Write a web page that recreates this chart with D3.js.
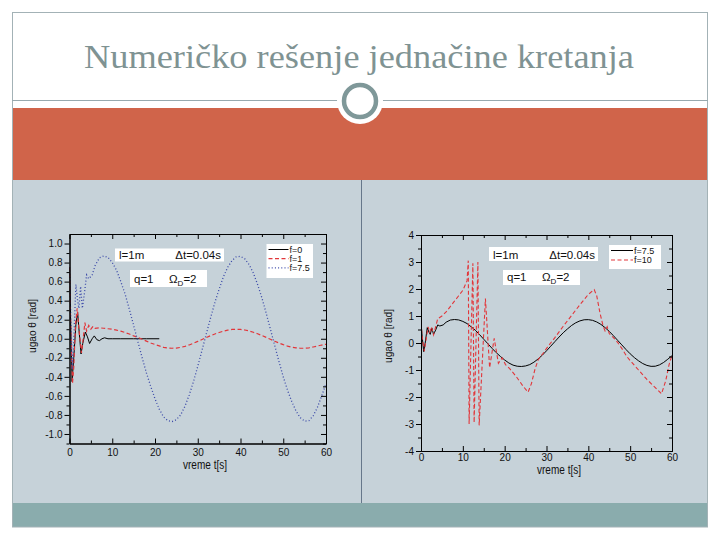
<!DOCTYPE html>
<html><head><meta charset="utf-8">
<script src="https://cdn.jsdelivr.net/npm/d3@7"></script>
<style>body{margin:0;background:#fff}svg{display:block}</style>
</head><body>
<svg id="c" width="720" height="540"></svg>
<script>
// ---------- DATA ----------
const titleText = "Numeričko rešenje jednačine kretanja";
const xTicks = [0, 10, 20, 30, 40, 50, 60];
const xMinorTicks = [5, 15, 25, 35, 45, 55];
const leftYTicks = [-1.0, -0.8, -0.6, -0.4, -0.2, 0.0, 0.2, 0.4, 0.6, 0.8, 1.0];
const leftYMinor = [-1.1, -0.9, -0.7, -0.5, -0.3, -0.1, 0.1, 0.3, 0.5, 0.7, 0.9];
const rightYTicks = [-4, -3, -2, -1, 0, 1, 2, 3, 4];
const rightYMinor = [-3.5, -2.5, -1.5, -0.5, 0.5, 1.5, 2.5, 3.5];
const leftLegend = ["f=0", "f=1", "f=7.5"];
const rightLegend = ["f=7.5", "f=10"];

// f = 0 (damped, left chart)
const f0 = [[0,0.75],[0.3,0.1],[0.6,-0.45],[1.0,-0.2],[1.5,0.15],[1.9,0.28],[2.3,0.05],[2.7,-0.16],
  [3.1,-0.05],[3.7,0.07],[4.2,0.02],[4.7,-0.05],[5.3,0.0],[5.8,0.03],[6.4,-0.01],[7.0,-0.02],
  [7.6,0.0],[8.2,0.01],[9,0],[10,0],[12,0],[15,0],[18,0],[21,0]];
// f = 1 (left chart)
const f1 = [[0,0.75],[0.3,0.1],[0.7,-0.47],[1.0,-0.3],[1.4,0.15],[1.8,0.32],[2.2,0.1],[2.8,-0.15],
  [3.2,0.0],[3.6,0.17],[4.0,0.08],[4.5,0.14],[5,0.1],[5.5,0.13],[6,0.11],[7,0.115],[8,0.11],
  [9,0.105],[10,0.1],[11,0.09],[12,0.08],[13,0.065],[14,0.05],[15,0.03],[16,0.015],[17,-0.005],
  [18,-0.025],[19,-0.045],[20,-0.06],[21,-0.075],[22,-0.09],[23,-0.097],[24,-0.1],[25,-0.098],
  [26,-0.09],[27,-0.08],[28,-0.065],[29,-0.047],[30,-0.028],[31,-0.008],[32,0.012],[33,0.032],
  [34,0.05],[35,0.066],[36,0.08],[37,0.09],[38,0.098],[39,0.1],[40,0.098],[41,0.092],[42,0.082],
  [43,0.068],[44,0.052],[45,0.034],[46,0.014],[47,-0.006],[48,-0.026],[49,-0.045],[50,-0.062],
  [51,-0.077],[52,-0.088],[53,-0.096],[54,-0.1],[55,-0.1],[56,-0.095],[57,-0.087],[58,-0.076],
  [59,-0.066],[60,-0.058]];
// f = 7.5 (blue dotted on left, black solid on right)
const f75 = [[0,0.75],[0.3,0.2],[0.65,-0.32],[1.0,0.0],[1.5,0.57],[1.9,0.4],[2.2,0.32],[2.6,0.55],
  [3.0,0.32],[3.5,0.48],[4.0,0.67],[4.5,0.63],[5.3,0.67],[6,0.77],[7,0.85],[8,0.87],[9,0.855],
  [10,0.8],[11,0.72],[12,0.6],[13,0.47],[14,0.31],[15,0.14],[16,-0.03],[17,-0.2],[18,-0.36],
  [19,-0.5],[20,-0.63],[21,-0.74],[22,-0.82],[23,-0.86],[24,-0.87],[25,-0.85],[26,-0.8],
  [27,-0.71],[28,-0.59],[29,-0.45],[30,-0.29],[31,-0.12],[32,0.05],[33,0.22],[34,0.38],
  [35,0.52],[36,0.65],[37,0.75],[38,0.82],[39,0.86],[40,0.865],[41,0.84],[42,0.78],[43,0.69],
  [44,0.57],[45,0.43],[46,0.27],[47,0.1],[48,-0.07],[49,-0.24],[50,-0.4],[51,-0.54],[52,-0.66],
  [53,-0.76],[54,-0.83],[55,-0.865],[56,-0.86],[57,-0.81],[58,-0.72],[59,-0.6],[60,-0.47]];
// f = 10 (right chart, red dashed)
const f10 = [[0,0.75],[0.3,0.2],[0.8,-0.3],[1.2,0.1],[1.7,0.6],[2.1,0.4],[2.5,0.6],[3.0,0.3],
  [3.5,0.6],[4.0,0.9],[5,1.0],[6,1.15],[7,1.35],[8,1.55],[9,1.75],[10,1.95],[11,2.3],[11.3,3.05],
  [11.5,-3.0],[12.4,2.95],[12.7,-2.95],[13.6,3.0],[13.9,-3.05],[15.4,1.65],[16.4,-0.92],
  [17.5,0.17],[18.5,-0.75],[19.4,-0.55],[20.2,-0.8],[21.2,-0.95],[22.8,-1.25],[24.4,-1.6],
  [25.6,-1.82],[26.4,-1.5],[27.2,-1.0],[28,-0.62],[29.2,-0.38],[30.4,-0.12],[32,0.2],[34,0.62],
  [36,1.02],[38,1.42],[40,1.8],[41.4,1.98],[42,1.75],[42.8,1.1],[43.5,0.65],[44,0.45],[44.5,0.6],
  [45,0.35],[46,0.2],[47,0.02],[48,-0.2],[49.2,-0.5],[50,-0.65],[52,-1.0],[54,-1.35],[56,-1.65],
  [57.5,-1.88],[58.5,-1.4],[59.3,-0.8],[60,-0.45]];

// ---------- SLIDE ----------
const svg = d3.select("#c");
svg.append("rect").attr("width",720).attr("height",540).attr("fill","#fff");
svg.append("rect").attr("x",12).attr("y",108).attr("width",696).attr("height",72).attr("fill","#d0644a");
svg.append("rect").attr("x",12).attr("y",180).attr("width",696).attr("height",323).attr("fill","#c6d2d9");
svg.append("rect").attr("x",12).attr("y",503).attr("width",696).attr("height",24).attr("fill","#8aacad");
svg.append("rect").attr("x",12.5).attr("y",12.5).attr("width",695).attr("height",514.5)
  .attr("fill","none").attr("stroke","#a3b2b6").attr("stroke-width",1);
svg.append("line").attr("x1",12).attr("x2",708).attr("y1",100.5).attr("y2",100.5)
  .attr("stroke","#98a9ae").attr("stroke-width",1);
svg.append("line").attr("x1",361.5).attr("x2",361.5).attr("y1",180).attr("y2",503)
  .attr("stroke","#66778a").attr("stroke-width",1);
svg.append("circle").attr("cx",360).attr("cy",101).attr("r",23).attr("fill","#fff");
svg.append("circle").attr("cx",360).attr("cy",101).attr("r",16).attr("fill","#fff")
  .attr("stroke","#7f9899").attr("stroke-width",4.5);
svg.append("text").attr("x",359).attr("y",68).attr("text-anchor","middle")
  .attr("font-family","'Liberation Serif','DejaVu Serif',serif").attr("font-size",34)
  .attr("fill","#7f9393").attr("textLength",550).attr("lengthAdjust","spacingAndGlyphs")
  .text(titleText);

// ---------- CHARTS ----------
const FONT = "'Liberation Sans',Arial,sans-serif";

function styleAxis(g){
  g.attr("font-family",FONT).attr("font-size",10);
  g.selectAll("path.domain").attr("stroke","#000").attr("stroke-width",1);
  g.selectAll(".tick line").attr("stroke","#000");
  g.selectAll(".tick text").attr("fill","#111");
}

function drawChart(cfg){
  const x = d3.scaleLinear().domain([0,60]).range([cfg.x0,cfg.x1]);
  const y = d3.scaleLinear().domain(cfg.yDomain).range([cfg.y1,cfg.y0]);
  const g = svg.append("g");
  const cid = "clip"+cfg.id;
  g.append("clipPath").attr("id",cid).append("rect")
    .attr("x",cfg.x0).attr("y",cfg.y0).attr("width",cfg.x1-cfg.x0).attr("height",cfg.y1-cfg.y0);

  // series
  const line = d3.line().x(d=>x(d[0])).y(d=>y(d[1]));
  const sg = g.append("g").attr("clip-path",`url(#${cid})`);
  cfg.series.forEach(s=>{
    sg.append("path").datum(s.data).attr("d",line).attr("fill","none")
      .attr("stroke",s.color).attr("stroke-width",s.width)
      .attr("stroke-dasharray",s.dash||null);
  });

  // axes
  g.append("g").attr("transform",`translate(0,${cfg.y1})`)
    .call(d3.axisBottom(x).tickValues(xTicks).tickSize(-5).tickSizeOuter(0).tickPadding(cfg.xPad).tickFormat(d3.format("d")))
    .call(styleAxis);
  g.append("g").attr("transform",`translate(0,${cfg.y1})`)
    .call(d3.axisBottom(x).tickValues(xMinorTicks).tickSize(-3).tickSizeOuter(0).tickFormat(""))
    .call(styleAxis);
  g.append("g").attr("transform",`translate(0,${cfg.y0})`)
    .call(d3.axisTop(x).tickValues(xTicks).tickSize(-5).tickSizeOuter(0).tickFormat(""))
    .call(styleAxis);
  g.append("g").attr("transform",`translate(0,${cfg.y0})`)
    .call(d3.axisTop(x).tickValues(xMinorTicks).tickSize(-3).tickSizeOuter(0).tickFormat(""))
    .call(styleAxis);
  g.append("g").attr("transform",`translate(${cfg.x0},0)`)
    .call(d3.axisLeft(y).tickValues(cfg.yTicks).tickSize(5).tickSizeOuter(0).tickPadding(2).tickFormat(cfg.yFmt))
    .call(styleAxis);
  g.append("g").attr("transform",`translate(${cfg.x0},0)`)
    .call(d3.axisLeft(y).tickValues(cfg.yMinor).tickSize(3).tickSizeOuter(0).tickFormat(""))
    .call(styleAxis);
  g.append("g").attr("transform",`translate(${cfg.x1},0)`)
    .call(d3.axisRight(y).tickValues(cfg.yTicks).tickSize(-5).tickSizeOuter(0).tickFormat(""))
    .call(styleAxis);
  g.append("g").attr("transform",`translate(${cfg.x1},0)`)
    .call(d3.axisRight(y).tickValues(cfg.yMinor).tickSize(-3).tickSizeOuter(0).tickFormat(""))
    .call(styleAxis);

  // axis titles
  g.append("text").attr("x",cfg.xLabel[0]).attr("y",cfg.xLabel[1]).attr("text-anchor","middle")
    .attr("font-family",FONT).attr("font-size",12).attr("fill","#111")
    .attr("textLength",44).attr("lengthAdjust","spacingAndGlyphs").text("vreme t[s]");
  g.append("text").attr("transform",`translate(${cfg.yLabel[0]},${cfg.yLabel[1]}) rotate(-90)`)
    .attr("text-anchor","middle").attr("font-family",FONT).attr("font-size",11).attr("fill","#111")
    .attr("textLength",54).attr("lengthAdjust","spacingAndGlyphs").text("ugao θ [rad]");

  // parameter boxes
  const b1 = cfg.box1, b2 = cfg.box2;
  g.append("rect").attr("x",b1[0]).attr("y",b1[1]).attr("width",b1[2]).attr("height",b1[3]).attr("fill","#fff");
  g.append("rect").attr("x",b2[0]).attr("y",b2[1]).attr("width",b2[2]).attr("height",b2[3]).attr("fill","#fff");
  const tstyle = t=>t.attr("font-family",FONT).attr("font-size",11.5).attr("fill","#111");
  g.append("text").attr("x",b1[0]+4).attr("y",b1[1]+b1[3]-2.5).call(tstyle).text("l=1m");
  g.append("text").attr("x",b1[0]+b1[2]-3).attr("y",b1[1]+b1[3]-2.5).attr("text-anchor","end").call(tstyle).text("Δt=0.04s");
  g.append("text").attr("x",b2[0]+4).attr("y",b2[1]+b2[3]-4).call(tstyle).text("q=1");
  const om = g.append("text").attr("x",b2[0]+b2[2]-38).attr("y",b2[1]+b2[3]-4).call(tstyle);
  om.append("tspan").text("Ω");
  om.append("tspan").attr("dy",3).attr("font-size",8).text("D");
  om.append("tspan").attr("dy",-3).text("=2");

  // legend
  const L = cfg.legend;
  g.append("rect").attr("x",L.x).attr("y",L.y).attr("width",L.w).attr("height",L.h).attr("fill","#fff");
  cfg.series.forEach((s,i)=>{
    const ly = L.y + L.first + i*L.step;
    g.append("line").attr("x1",L.x+2).attr("x2",L.x+2+L.len).attr("y1",ly).attr("y2",ly)
      .attr("stroke",s.color).attr("stroke-width",s.width).attr("stroke-dasharray",s.dash||null);
    g.append("text").attr("x",L.x+3+L.len).attr("y",ly+3).attr("font-family",FONT)
      .attr("font-size",9).attr("fill","#111").text(cfg.labels[i]);
  });
}

const fmtLeft = d => d.toFixed(1);
const fmtRight = d => String(d);

drawChart({
  id:"L", x0:69.5, x1:326, y0:234, y1:443.5, yDomain:[-1.1,1.1],
  yTicks:leftYTicks, yMinor:leftYMinor, yFmt:fmtLeft, xPad:5,
  xLabel:[205,469], yLabel:[36,326],
  box1:[115,248.5,109,13], box2:[130,270,77,17],
  legend:{x:266.5,y:244,w:46.5,h:34,first:5.5,step:9.2,len:20},
  labels:leftLegend,
  series:[
    {data:f0, color:"#000", width:1},
    {data:f1, color:"#e2363a", width:1.2, dash:"4,2.5"},
    {data:f75, color:"#3a48a8", width:1.3, dash:"1,2.2"}
  ]
});

drawChart({
  id:"R", x0:421, x1:672, y0:235, y1:451, yDomain:[-4,4],
  yTicks:rightYTicks, yMinor:rightYMinor, yFmt:fmtRight, xPad:3,
  xLabel:[559,474], yLabel:[392,336],
  box1:[489,247,109,14], box2:[503,270,77,15],
  legend:{x:609,y:245,w:52,h:24,first:5.5,step:9.5,len:22},
  labels:rightLegend,
  series:[
    {data:f75, color:"#000", width:1},
    {data:f10, color:"#e2363a", width:1.1, dash:"4,2.5"}
  ]
});
</script>
</body></html>
